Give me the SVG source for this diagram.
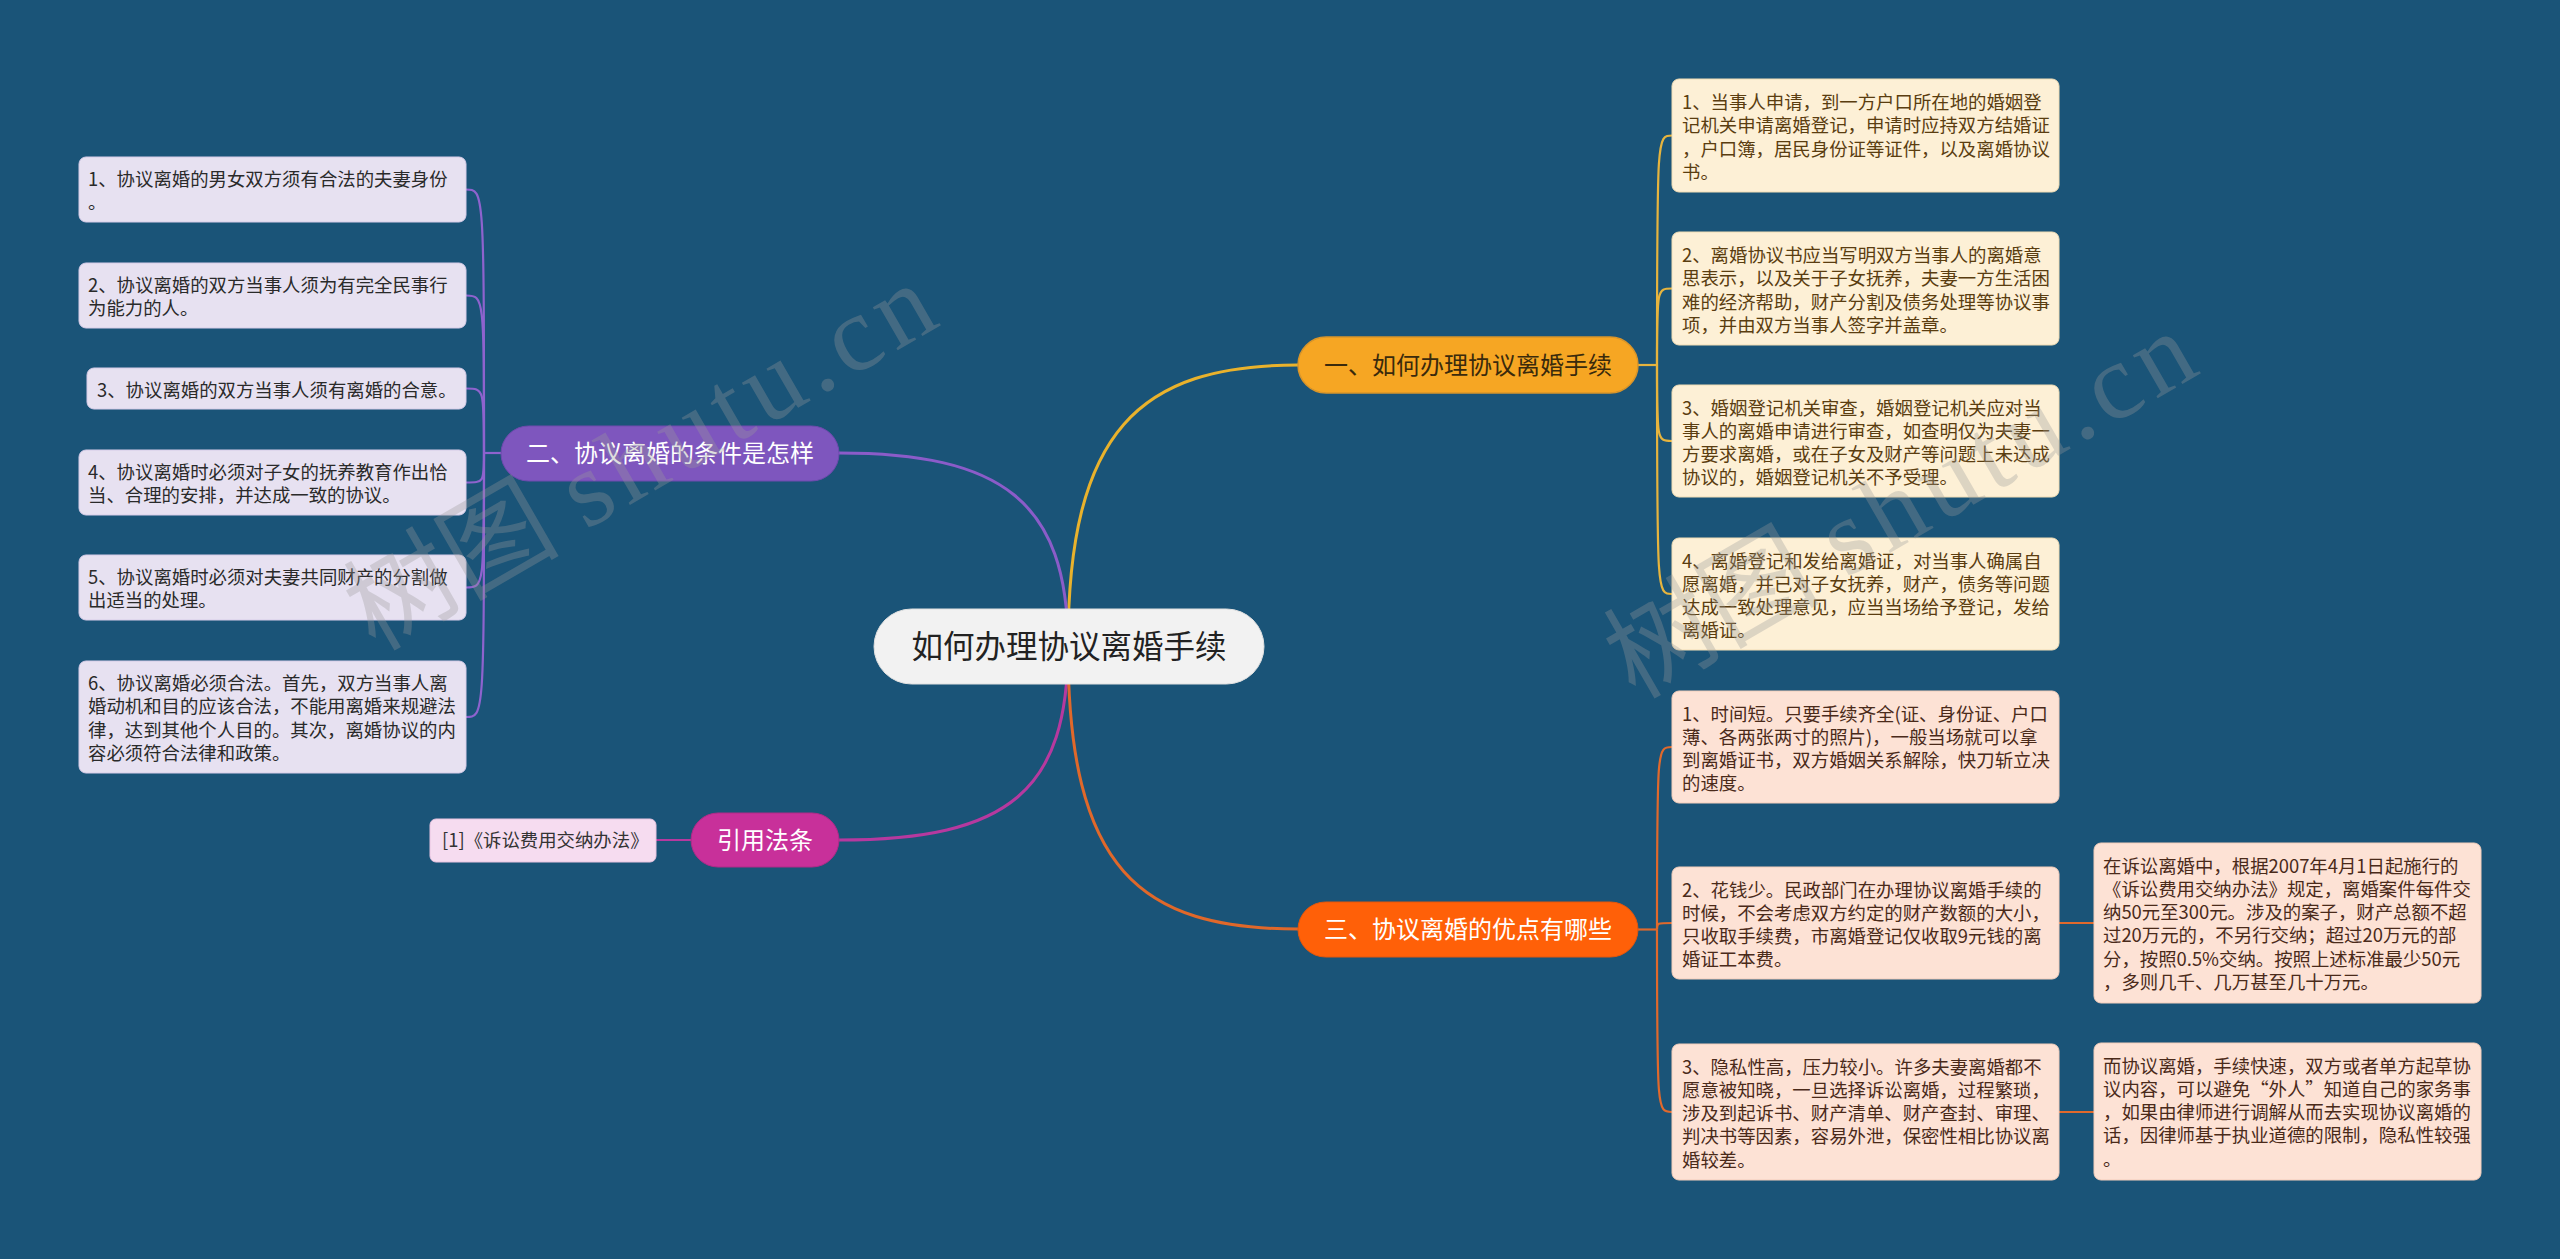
<svg xmlns="http://www.w3.org/2000/svg" width="2560" height="1259" viewBox="0 0 2560 1259">
<style>
text{font-family:"Noto Sans CJK SC","Noto Sans",sans-serif;}
.lf{font-size:18.4px;}
.br{font-size:24px;text-anchor:middle;}
.c{fill:none;stroke-linecap:round;}
.lv{fill:#E7E1F1;stroke:#D6CCE8;stroke-width:1;}
.ly{fill:#FDF0D6;stroke:#F0DDB5;stroke-width:1;}
.lo{fill:#FDE2D5;stroke:#F2CDBB;stroke-width:1;}
.lm{fill:#F6DCF0;stroke:#E8C4E0;stroke-width:1;}
.tv{fill:#2a2a2a;}
.ty{fill:#5a3d10;}
.to{fill:#4a2a1a;}
.wm{font-family:"Liberation Serif","Noto Sans CJK SC",serif;font-size:108px;fill:#9a9a9a;opacity:0.32;}
</style>
<rect x="0" y="0" width="2560" height="1259" fill="#1A5478"/>

<g id="connectors">
  <path class="c" d="M1068,646 C1068,430 1140,365 1298,365" stroke="#E9B22C" stroke-width="3"/>
  <path class="c" d="M1068,646 C1068,500 1000,453 839,453" stroke="#8B5CC9" stroke-width="3"/>
  <path class="c" d="M1068,646 C1068,790 1010,840 839,840" stroke="#B6399F" stroke-width="3"/>
  <path class="c" d="M1068,646 C1068,870 1140,929 1298,929" stroke="#E0682A" stroke-width="3"/>
  <g stroke="#8E63CE" stroke-width="2.2" fill="none">
    <path d="M501,453 L484,453"/>
    <path d="M484,453 C484,189.5 484,189.5 466,189.5"/>
    <path d="M484,453 C484,295.5 484,295.5 466,295.5"/>
    <path d="M484,453 C484,388.5 484,388.5 466,388.5"/>
    <path d="M484,453 C484,482.5 484,482.5 466,482.5"/>
    <path d="M484,453 C484,587.5 484,587.5 466,587.5"/>
    <path d="M484,453 C484,717 484,717 466,717"/>
  </g>
  <g stroke="#E6B43E" stroke-width="2.2" fill="none">
    <path d="M1638,365 L1657,365"/>
    <path d="M1657,365 C1657,135.5 1657,135.5 1672,135.5"/>
    <path d="M1657,365 C1657,288.5 1657,288.5 1672,288.5"/>
    <path d="M1657,365 C1657,441 1657,441 1672,441"/>
    <path d="M1657,365 C1657,594 1657,594 1672,594"/>
  </g>
  <g stroke="#E0692C" stroke-width="2.2" fill="none">
    <path d="M1638,929.5 L1657,929.5"/>
    <path d="M1657,929.5 C1657,747 1657,747 1672,747"/>
    <path d="M1657,929.5 C1657,923 1657,923 1672,923"/>
    <path d="M1657,929.5 C1657,1112 1657,1112 1672,1112"/>
    <path d="M2059,923 L2094,923"/>
    <path d="M2059,1112 L2094,1112"/>
  </g>
  <path d="M691,840 L656,840" stroke="#B6399F" stroke-width="2.2" fill="none"/>
</g>

<g id="center">
  <rect x="874" y="609" width="390" height="75" rx="37.5" fill="#F2F2F2" stroke="#E0E0E0"/>
  <text x="1069" y="657.5" font-size="31.5" text-anchor="middle" fill="#222">如何办理协议离婚手续</text>
</g>

<g id="branch1">
  <rect x="1298" y="337" width="340" height="56" rx="28" fill="#F6A623" stroke="#D9952A" stroke-width="1.5"/>
  <text class="br" x="1468" y="373.5" fill="#3a2a0c">一、如何办理协议离婚手续</text>
</g>
<g id="branch2">
  <rect x="501" y="426" width="338" height="55" rx="27.5" fill="#7E56BE" stroke="#6E4AAE" stroke-width="1"/>
  <text class="br" x="670" y="462" fill="#ffffff">二、协议离婚的条件是怎样</text>
</g>
<g id="branch_cite">
  <rect x="691" y="813" width="148" height="54" rx="27" fill="#C8309A" stroke="#B02A88" stroke-width="1"/>
  <text class="br" x="765" y="848.5" fill="#ffffff">引用法条</text>
</g>
<g id="branch3">
  <rect x="1298" y="902" width="340" height="55" rx="27.5" fill="#FF6008" stroke="#E5560A" stroke-width="1"/>
  <text class="br" x="1468" y="938" fill="#ffffff">三、协议离婚的优点有哪些</text>
</g>

<g id="leaf2-1">
  <rect class="lv" x="79" y="157" width="387" height="65" rx="7"/>
  <text class="lf tv" x="88" y="185.8"><tspan>1、协议离婚的男女双方须有合法的夫妻身份</tspan><tspan x="88" dy="23.3">。</tspan></text>
</g>
<g id="leaf2-2">
  <rect class="lv" x="79" y="263" width="387" height="65" rx="7"/>
  <text class="lf tv" x="88" y="291.8"><tspan>2、协议离婚的双方当事人须为有完全民事行</tspan><tspan x="88" dy="23.3">为能力的人。</tspan></text>
</g>
<g id="leaf2-3">
  <rect class="lv" x="87" y="368" width="379" height="41" rx="7"/>
  <text class="lf tv" x="97" y="396.5">3、协议离婚的双方当事人须有离婚的合意。</text>
</g>
<g id="leaf2-4">
  <rect class="lv" x="79" y="450" width="387" height="65" rx="7"/>
  <text class="lf tv" x="88" y="478.8"><tspan>4、协议离婚时必须对子女的抚养教育作出恰</tspan><tspan x="88" dy="23.3">当、合理的安排，并达成一致的协议。</tspan></text>
</g>
<g id="leaf2-5">
  <rect class="lv" x="79" y="555" width="387" height="65" rx="7"/>
  <text class="lf tv" x="88" y="583.8"><tspan>5、协议离婚时必须对夫妻共同财产的分割做</tspan><tspan x="88" dy="23.3">出适当的处理。</tspan></text>
</g>
<g id="leaf2-6">
  <rect class="lv" x="79" y="661" width="387" height="112" rx="7"/>
  <text class="lf tv" x="88" y="690"><tspan>6、协议离婚必须合法。首先，双方当事人离</tspan><tspan x="88" dy="23.3">婚动机和目的应该合法，不能用离婚来规避法</tspan><tspan x="88" dy="23.3">律，达到其他个人目的。其次，离婚协议的内</tspan><tspan x="88" dy="23.3">容必须符合法律和政策。</tspan></text>
</g>

<g id="leaf-cite">
  <rect class="lm" x="430" y="819" width="226" height="43" rx="6"/>
  <text class="lf" x="442" y="847" fill="#333">[1]《诉讼费用交纳办法》</text>
</g>

<g id="leaf1-1">
  <rect class="ly" x="1672" y="79" width="387" height="113" rx="7"/>
  <text class="lf ty" x="1682" y="109"><tspan>1、当事人申请，到一方户口所在地的婚姻登</tspan><tspan x="1682" dy="23.3">记机关申请离婚登记，申请时应持双方结婚证</tspan><tspan x="1682" dy="23.3">，户口簿，居民身份证等证件，以及离婚协议</tspan><tspan x="1682" dy="23.3">书。</tspan></text>
</g>
<g id="leaf1-2">
  <rect class="ly" x="1672" y="232" width="387" height="113" rx="7"/>
  <text class="lf ty" x="1682" y="262"><tspan>2、离婚协议书应当写明双方当事人的离婚意</tspan><tspan x="1682" dy="23.3">思表示，以及关于子女抚养，夫妻一方生活困</tspan><tspan x="1682" dy="23.3">难的经济帮助，财产分割及债务处理等协议事</tspan><tspan x="1682" dy="23.3">项，并由双方当事人签字并盖章。</tspan></text>
</g>
<g id="leaf1-3">
  <rect class="ly" x="1672" y="385" width="387" height="112" rx="7"/>
  <text class="lf ty" x="1682" y="414.5"><tspan>3、婚姻登记机关审查，婚姻登记机关应对当</tspan><tspan x="1682" dy="23.3">事人的离婚申请进行审查，如查明仅为夫妻一</tspan><tspan x="1682" dy="23.3">方要求离婚，或在子女及财产等问题上未达成</tspan><tspan x="1682" dy="23.3">协议的，婚姻登记机关不予受理。</tspan></text>
</g>
<g id="leaf1-4">
  <rect class="ly" x="1672" y="538" width="387" height="112" rx="7"/>
  <text class="lf ty" x="1682" y="567.5"><tspan>4、离婚登记和发给离婚证，对当事人确属自</tspan><tspan x="1682" dy="23.3">愿离婚，并已对子女抚养，财产，债务等问题</tspan><tspan x="1682" dy="23.3">达成一致处理意见，应当当场给予登记，发给</tspan><tspan x="1682" dy="23.3">离婚证。</tspan></text>
</g>

<g id="leaf3-1">
  <rect class="lo" x="1672" y="691" width="387" height="112" rx="7"/>
  <text class="lf to" x="1682" y="720.5"><tspan>1、时间短。只要手续齐全(证、身份证、户口</tspan><tspan x="1682" dy="23.3">薄、各两张两寸的照片)，一般当场就可以拿</tspan><tspan x="1682" dy="23.3">到离婚证书，双方婚姻关系解除，快刀斩立决</tspan><tspan x="1682" dy="23.3">的速度。</tspan></text>
</g>
<g id="leaf3-2">
  <rect class="lo" x="1672" y="867" width="387" height="112" rx="7"/>
  <text class="lf to" x="1682" y="896.5"><tspan>2、花钱少。民政部门在办理协议离婚手续的</tspan><tspan x="1682" dy="23.3">时候，不会考虑双方约定的财产数额的大小，</tspan><tspan x="1682" dy="23.3">只收取手续费，市离婚登记仅收取9元钱的离</tspan><tspan x="1682" dy="23.3">婚证工本费。</tspan></text>
</g>
<g id="leaf3-3">
  <rect class="lo" x="1672" y="1044" width="387" height="136" rx="7"/>
  <text class="lf to" x="1682" y="1073.5"><tspan>3、隐私性高，压力较小。许多夫妻离婚都不</tspan><tspan x="1682" dy="23.3">愿意被知晓，一旦选择诉讼离婚，过程繁琐，</tspan><tspan x="1682" dy="23.3">涉及到起诉书、财产清单、财产查封、审理、</tspan><tspan x="1682" dy="23.3">判决书等因素，容易外泄，保密性相比协议离</tspan><tspan x="1682" dy="23.3">婚较差。</tspan></text>
</g>
<g id="leaf3-2a">
  <rect class="lo" x="2094" y="843" width="387" height="160" rx="7"/>
  <text class="lf to" x="2103" y="872.5"><tspan>在诉讼离婚中，根据2007年4月1日起施行的</tspan><tspan x="2103" dy="23.3">《诉讼费用交纳办法》规定，离婚案件每件交</tspan><tspan x="2103" dy="23.3">纳50元至300元。涉及的案子，财产总额不超</tspan><tspan x="2103" dy="23.3">过20万元的，不另行交纳；超过20万元的部</tspan><tspan x="2103" dy="23.3">分，按照0.5%交纳。按照上述标准最少50元</tspan><tspan x="2103" dy="23.3">，多则几千、几万甚至几十万元。</tspan></text>
</g>
<g id="leaf3-3a">
  <rect class="lo" x="2094" y="1043" width="387" height="137" rx="7"/>
  <text class="lf to" x="2103" y="1072.5"><tspan>而协议离婚，手续快速，双方或者单方起草协</tspan><tspan x="2103" dy="23.3">议内容，可以避免“外人”知道自己的家务事</tspan><tspan x="2103" dy="23.3">，如果由律师进行调解从而去实现协议离婚的</tspan><tspan x="2103" dy="23.3">话，因律师基于执业道德的限制，隐私性较强</tspan><tspan x="2103" dy="23.3">。</tspan></text>
</g>

<g id="watermark">
  <text class="wm" transform="translate(375,652) rotate(-30)">树图 <tspan letter-spacing="7">shutu.cn</tspan></text>
  <text class="wm" transform="translate(1635,700) rotate(-30)">树图 <tspan letter-spacing="7">shutu.cn</tspan></text>
</g>
</svg>
